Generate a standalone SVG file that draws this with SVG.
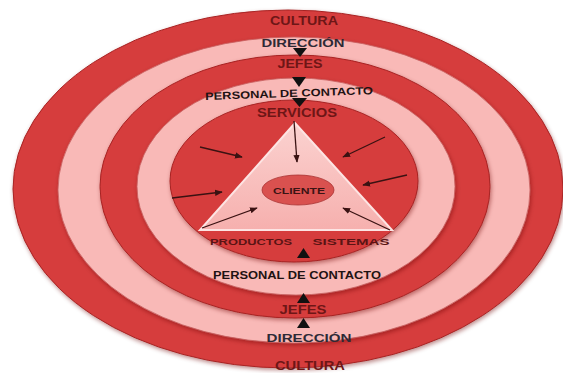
<svg xmlns="http://www.w3.org/2000/svg" width="563" height="373" viewBox="0 0 563 373">
<defs>
<style>
.red{fill:#d63c3c;stroke:#a82424;stroke-width:1}
.pink{fill:#f9b9b7;stroke:#c86060;stroke-width:0.8}
.t{font-family:"Liberation Sans",Arial,sans-serif;text-anchor:middle;font-weight:bold}
.lbl{font-size:12px;fill:#6e1616}
.dir{font-size:11.5px;fill:#2e2a36}
.bold{font-size:10.5px;fill:#1e1212}
.small{font-size:9.5px;fill:#5a1414}
.con{stroke:#3a1212;stroke-width:1.3;fill:none;marker-end:url(#ah)}
.tri{fill:#111}
</style>
<marker id="ah" viewBox="0 0 10 10" refX="9" refY="5" markerWidth="6" markerHeight="6" orient="auto">
<path d="M0,1 L10,5 L0,9 z" fill="#3a1212"/>
</marker>
<filter id="sh" x="-10%" y="-10%" width="120%" height="125%">
<feDropShadow dx="1" dy="2" stdDeviation="2" flood-color="#6a0e0e" flood-opacity="0.45"/>
</filter>
<linearGradient id="tg" x1="0" y1="0" x2="0" y2="1">
<stop offset="0" stop-color="#fbd2d0"/>
<stop offset="1" stop-color="#f6b0ae"/>
</linearGradient>
</defs>
<rect width="563" height="373" fill="#ffffff"/>
<g id="cultura">
<ellipse class="red" cx="288" cy="189" rx="275" ry="179" filter="url(#sh)"/>
<text class="t lbl" x="304" y="24.5" textLength="68" lengthAdjust="spacingAndGlyphs">CULTURA</text>
<text class="t lbl" x="310" y="370" textLength="70" lengthAdjust="spacingAndGlyphs">CULTURA</text>
</g>
<g id="direccion">
<ellipse class="pink" cx="294" cy="190" rx="236" ry="153" filter="url(#sh)"/>
<text class="t dir" x="303" y="47" textLength="83" lengthAdjust="spacingAndGlyphs">DIRECCIÓN</text>
<text class="t dir" x="309" y="342" textLength="85" lengthAdjust="spacingAndGlyphs">DIRECCIÓN</text>
</g>
<g id="jefes">
<ellipse class="red" cx="295" cy="186.5" rx="195" ry="131.5" filter="url(#sh)"/>
<text class="t lbl" x="300" y="68" textLength="45" lengthAdjust="spacingAndGlyphs">JEFES</text>
<text class="t lbl" x="303" y="314" textLength="47" lengthAdjust="spacingAndGlyphs">JEFES</text>
</g>
<g id="personal">
<ellipse class="pink" cx="296" cy="186.5" rx="159" ry="108.5" filter="url(#sh)"/>
<text class="t bold" x="289" y="97" textLength="168" lengthAdjust="spacingAndGlyphs" transform="rotate(-2 289 93)">PERSONAL DE CONTACTO</text>
<text class="t bold" x="297" y="279" textLength="168" lengthAdjust="spacingAndGlyphs">PERSONAL DE CONTACTO</text>
</g>
<g id="servicios">
<ellipse class="red" cx="294" cy="181" rx="124" ry="81" filter="url(#sh)"/>
<text class="t lbl" x="297" y="117" textLength="80" lengthAdjust="spacingAndGlyphs">SERVICIOS</text>
</g>
<g id="triangulo">
<polygon points="295,123 200,230 392,230" fill="url(#tg)" stroke="#fde4e3" stroke-width="2"/>
<text class="t small" x="251" y="245" textLength="82" lengthAdjust="spacingAndGlyphs">PRODUCTOS</text>
<text class="t small" x="351" y="245" textLength="77" lengthAdjust="spacingAndGlyphs">SISTEMAS</text>
</g>
<g id="cliente">
<ellipse cx="298" cy="190" rx="36" ry="15" fill="#d9514f" stroke="#a83030" stroke-width="0.8"/>
<text class="t small" x="299" y="193.5" textLength="52" lengthAdjust="spacingAndGlyphs" style="fill:#3a1414">CLIENTE</text>
</g>
<g id="connectors">
<line class="con" x1="294" y1="121" x2="297" y2="162"/>
<line class="con" x1="200" y1="147" x2="242" y2="157"/>
<line class="con" x1="172" y1="198" x2="222" y2="192"/>
<line class="con" x1="385" y1="137" x2="343" y2="157"/>
<line class="con" x1="407" y1="175" x2="363" y2="185"/>
<line class="con" x1="202" y1="228" x2="257" y2="208"/>
<line class="con" x1="390" y1="230" x2="343" y2="208"/>
<polygon class="tri" points="293,48 307,48 300,57"/>
<polygon class="tri" points="292,77 306,77 299,87"/>
<polygon class="tri" points="292,98 307,98 299.5,107"/>
<polygon class="tri" points="297,258 310,258 303.5,248"/>
<polygon class="tri" points="297,303 310,303 303.5,293"/>
<polygon class="tri" points="297,328 310,328 303.5,318"/>
</g>
</svg>
